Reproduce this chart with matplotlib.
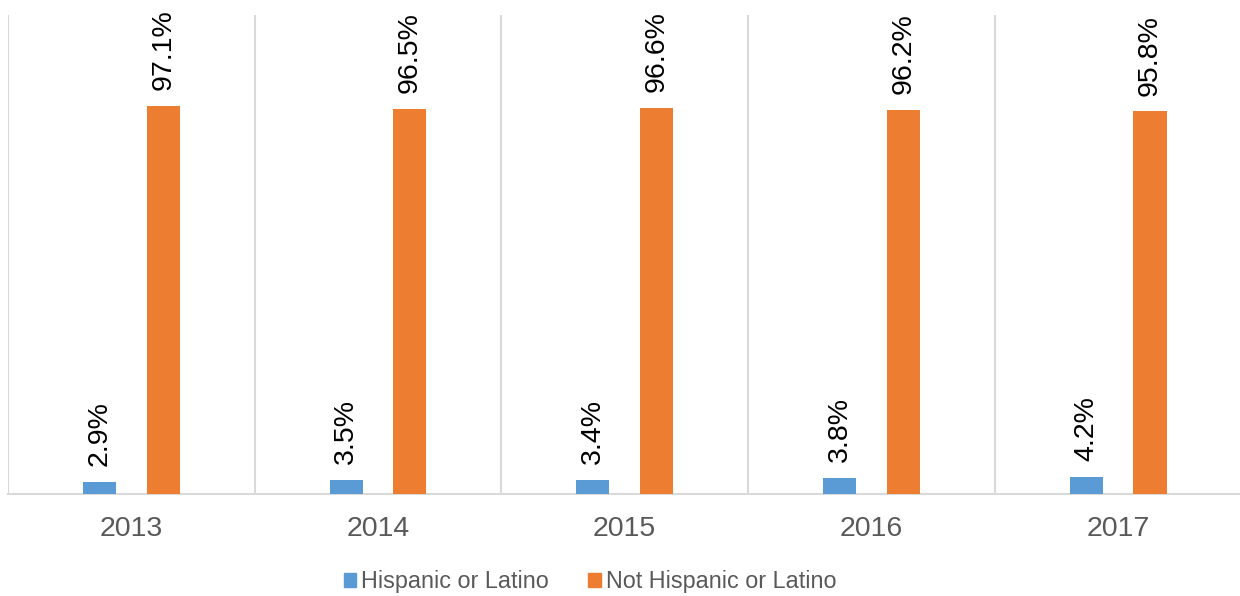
import matplotlib
matplotlib.use("Agg")
import matplotlib.pyplot as plt
from matplotlib.patches import Patch
import numpy as np

years = ["2013", "2014", "2015", "2016", "2017"]
hispanic = [2.9, 3.5, 3.4, 3.8, 4.2]
not_hispanic = [97.1, 96.5, 96.6, 96.2, 95.8]
series_names = ["Hispanic or Latino", "Not Hispanic or Latino"]
colors = ["#5b9bd5", "#ed7d31"]

plt.rcParams['font.family'] = ['Liberation Sans', 'DejaVu Sans']

W, H = 1240, 596
fig = plt.figure(figsize=(W / 100, H / 100), dpi=100)
ax = fig.add_axes([8 / W, (H - 493.5) / H, 1233.5 / W, 478.5 / H])

x = np.arange(len(years))
bw = 0.134
off = 0.129
b1 = ax.bar(x - off, hispanic, bw, color=colors[0], zorder=3)
b2 = ax.bar(x + off, not_hispanic, bw, color=colors[1], zorder=3)

for bars, vals in ((b1, hispanic), (b2, not_hispanic)):
    for r, v in zip(bars, vals):
        ax.annotate(f"{v:.1f}%", (r.get_x() + r.get_width() / 2, r.get_height()),
                    xytext=(0, 11.5), textcoords="offset points",
                    rotation=90, ha="center", va="bottom", fontsize=20.5, color="black")

ax.set_xlim(-0.5, len(years) - 0.5)
ax.set_ylim(0, 120)
for b in np.arange(-0.5, len(years), 1.0):
    ax.axvline(b, color="#d9d9d9", lw=1.5, zorder=1)

for s in ["top", "right", "left"]:
    ax.spines[s].set_visible(False)
ax.spines["bottom"].set_color("#d9d9d9")
ax.spines["bottom"].set_linewidth(1.5)
ax.set_yticks([])
ax.set_xticks(x)
ax.set_xticklabels(years, fontsize=20.5, color="#595959")
ax.tick_params(axis="x", length=0, pad=16)

handles = [Patch(color=c, label=n) for c, n in zip(colors, series_names)]
fig.legend(handles=handles, loc="center", bbox_to_anchor=(590 / W, 1 - 581.7 / H),
           ncol=2, frameon=False, fontsize=16.8, handlelength=0.52, handleheight=0.52,
           handletextpad=0.22, columnspacing=1.7, labelcolor="#595959")

fig.savefig("out.png", dpi=100)
